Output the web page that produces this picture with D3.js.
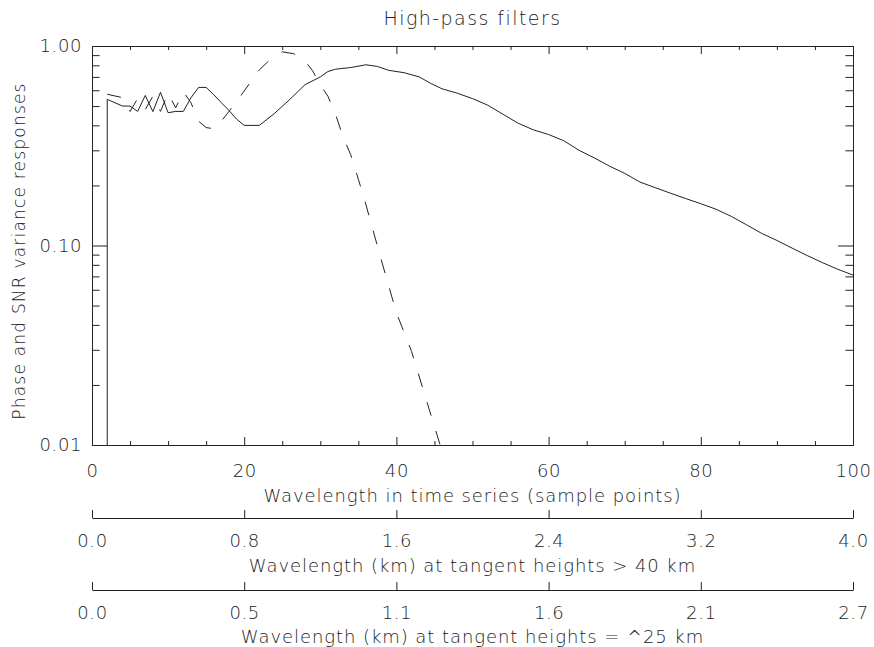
<!DOCTYPE html>
<html lang="en">
<head>
    <meta charset="UTF-8">
    <script src="https://d3js.org/d3.v7.min.js"></script>
    <title>High-pass filters</title>
    <style>
        body { margin: 0; background: #fff; }
        text { font-family: "DejaVu Sans", sans-serif; font-weight: 200; fill: #222; }
    </style>
</head>
<body>
    <svg width="874" height="647" id="chart"></svg>
    <script>
        // solid curve (phase response)
        const solidX = [2, 2, 4, 5, 6, 7, 8, 9, 10, 11, 12, 13, 14, 15, 16, 17, 18, 19, 20, 22,
            24, 26, 28, 30, 31, 32, 34, 36, 37.5, 39, 41, 43, 44.5, 46, 48, 50, 52, 54, 56, 58,
            60, 62, 64, 66, 68, 70, 72, 74, 76, 78, 80, 82, 84, 86, 88, 90, 92, 94, 96, 98, 100];
        const solidY = [0.001, 0.54, 0.50, 0.50, 0.47, 0.565, 0.469, 0.586, 0.463, 0.47,
            0.47, 0.55, 0.62, 0.62, 0.57, 0.52, 0.475, 0.43, 0.40, 0.40,
            0.46, 0.54, 0.64, 0.70, 0.745, 0.765, 0.78, 0.805, 0.79, 0.755,
            0.735, 0.70, 0.65, 0.61, 0.58, 0.545, 0.505, 0.455, 0.41, 0.38,
            0.36, 0.335, 0.30, 0.275, 0.25, 0.23, 0.208, 0.195, 0.183, 0.172,
            0.162, 0.152, 0.14, 0.127, 0.115, 0.106, 0.097, 0.089, 0.082, 0.076, 0.0711];

        // dashed curve (SNR variance response)
        const dashX = [2, 4, 5, 6, 7, 8, 9, 10, 11, 12, 13, 14, 15, 16, 17, 18, 20, 22, 23.5, 25,
            26.5, 28, 29, 30, 31, 32, 33, 34, 35, 36, 38, 40, 42, 44, 46, 48];
        const dashY = [0.573, 0.551, 0.47, 0.545, 0.48, 0.56, 0.47, 0.58, 0.49, 0.59,
            0.52, 0.42, 0.39, 0.385, 0.42, 0.47, 0.595, 0.76, 0.862, 0.935,
            0.915, 0.84, 0.75, 0.64, 0.56, 0.455, 0.35, 0.285, 0.215, 0.16,
            0.085, 0.046, 0.0294, 0.0165, 0.0093, 0.005];

        // tick labels
        const xTicks = [0, 20, 40, 60, 80, 100];
        const kmHighLabels = ["0.0", "0.8", "1.6", "2.4", "3.2", "4.0"];
        const kmLowLabels = ["0.0", "0.5", "1.1", "1.6", "2.1", "2.7"];
        const yTicks = [0.01, 0.1, 1];

        const pLeft = 92, pRight = 853, pTop = 46, pBottom = 445;
        const svg = d3.select("#chart");

        const x = d3.scaleLinear().domain([0, 100]).range([pLeft, pRight]);
        const y = d3.scaleLog().domain([0.01, 1]).range([pBottom, pTop]);

        const xMinor = d3.range(0, 101, 5).filter(v => v % 20 != 0);
        const yMinor = [];
        [0.01, 0.1].forEach(d => { for (let k = 2; k < 10; k++) yMinor.push(d * k); });

        function styleAxis(g) {
            g.selectAll("path, line").attr("stroke", "#222").attr("stroke-width", 1);
            g.selectAll("text").style("font-size", "18px").style("letter-spacing", "0.6px").attr("fill", "#222");
        }

        // bottom axis with labels
        svg.append("g").attr("transform", `translate(0,${pBottom})`)
            .call(d3.axisBottom(x).tickValues(xTicks).tickSize(-8).tickSizeOuter(0).tickFormat(d3.format("d")))
            .call(styleAxis)
            .call(g => g.selectAll("text").attr("y", 32).attr("dy", 0));
        svg.append("g").attr("transform", `translate(0,${pBottom})`)
            .call(d3.axisBottom(x).tickValues(xMinor).tickSize(-4).tickSizeOuter(0).tickFormat(""))
            .call(styleAxis);

        // top axis
        svg.append("g").attr("transform", `translate(0,${pTop})`)
            .call(d3.axisTop(x).tickValues(xTicks).tickSize(-8).tickSizeOuter(0).tickFormat(""))
            .call(styleAxis);
        svg.append("g").attr("transform", `translate(0,${pTop})`)
            .call(d3.axisTop(x).tickValues(xMinor).tickSize(-4).tickSizeOuter(0).tickFormat(""))
            .call(styleAxis);

        // left axis
        svg.append("g").attr("transform", `translate(${pLeft},0)`)
            .call(d3.axisLeft(y).tickValues(yTicks).tickSize(-15).tickSizeOuter(0).tickPadding(10).tickFormat(d3.format(".2f")))
            .call(styleAxis);
        svg.append("g").attr("transform", `translate(${pLeft},0)`)
            .call(d3.axisLeft(y).tickValues(yMinor).tickSize(-7.6).tickSizeOuter(0).tickFormat(""))
            .call(styleAxis);

        // right axis
        svg.append("g").attr("transform", `translate(${pRight},0)`)
            .call(d3.axisRight(y).tickValues(yTicks).tickSize(-15).tickSizeOuter(0).tickFormat(""))
            .call(styleAxis);
        svg.append("g").attr("transform", `translate(${pRight},0)`)
            .call(d3.axisRight(y).tickValues(yMinor).tickSize(-7.6).tickSizeOuter(0).tickFormat(""))
            .call(styleAxis);

        // extra km axes below
        function kmAxis(yPos, labels) {
            svg.append("g").attr("transform", `translate(0,${yPos})`)
                .call(d3.axisBottom(x).tickValues(xTicks).tickSize(-8).tickSizeOuter(0)
                    .tickFormat((d, i) => labels[i]))
                .call(styleAxis)
                .call(g => g.selectAll("text").attr("y", 29).attr("dy", 0));
        }
        kmAxis(518, kmHighLabels);
        kmAxis(590, kmLowLabels);

        // curves
        svg.append("clipPath").attr("id", "plotClip")
            .append("rect").attr("x", pLeft).attr("y", pTop)
            .attr("width", pRight - pLeft).attr("height", pBottom - pTop);

        const line = d3.line().x(d => x(d[0])).y(d => y(d[1]));

        svg.append("path")
            .datum(solidX.map((v, i) => [v, solidY[i]]))
            .attr("clip-path", "url(#plotClip)")
            .attr("d", line)
            .attr("fill", "none").attr("stroke", "#222").attr("stroke-width", 1);

        svg.append("path")
            .datum(dashX.map((v, i) => [v, dashY[i]]))
            .attr("clip-path", "url(#plotClip)")
            .attr("d", line)
            .attr("fill", "none").attr("stroke", "#222").attr("stroke-width", 1)
            .attr("stroke-dasharray", "14,16");

        // titles
        const mid = (pLeft + pRight) / 2;
        svg.append("text").attr("x", mid).attr("y", 25).attr("text-anchor", "middle")
            .style("font-size", "19px").style("letter-spacing", "1.45px")
            .text("High-pass filters");
        svg.append("text").attr("x", mid).attr("y", 502).attr("text-anchor", "middle")
            .style("font-size", "18px").style("letter-spacing", "0.93px")
            .text("Wavelength in time series (sample points)");
        svg.append("text").attr("x", mid).attr("y", 572).attr("text-anchor", "middle")
            .style("font-size", "18px").style("letter-spacing", "0.93px")
            .text("Wavelength (km) at tangent heights > 40 km");
        svg.append("text").attr("x", mid).attr("y", 643).attr("text-anchor", "middle")
            .style("font-size", "18px").style("letter-spacing", "0.93px")
            .text("Wavelength (km) at tangent heights = ^25 km");
        svg.append("text").attr("transform", "translate(25,251) rotate(-90)")
            .attr("text-anchor", "middle")
            .style("font-size", "17px").style("letter-spacing", "1.2px")
            .text("Phase and SNR variance responses");
    </script>
</body>
</html>
